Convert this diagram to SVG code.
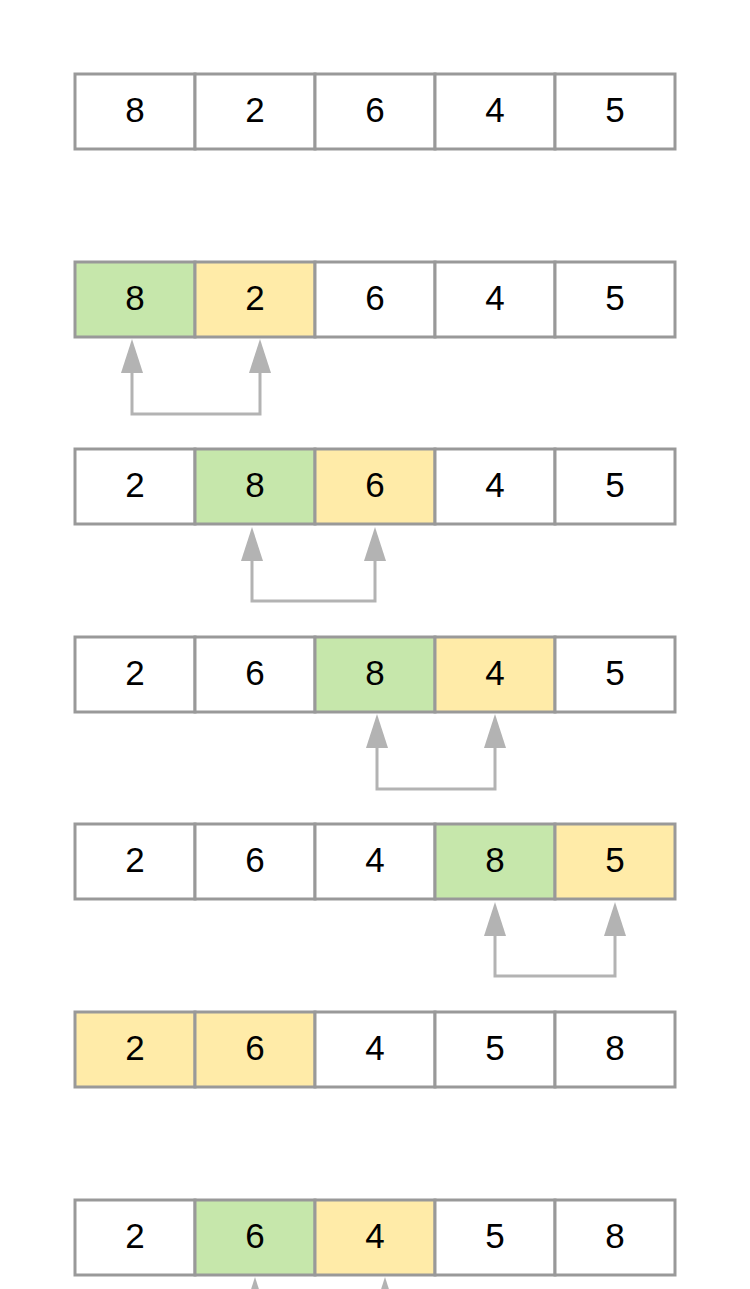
<svg xmlns="http://www.w3.org/2000/svg" width="750" height="1289" viewBox="0 0 750 1289">
<style>
.c{stroke:#999999;stroke-width:3;fill:#ffffff}
.g{fill:#c6e7ab}
.y{fill:#ffeba8}
.t{font-family:"Liberation Sans",Arial,sans-serif;font-size:35px;fill:#000000;text-anchor:middle}
.a{fill:none;stroke:#b3b3b3;stroke-width:3;marker-start:url(#h);marker-end:url(#h)}
</style>
<defs>
<marker id="h" viewBox="0 0 34 22" refX="0" refY="11" markerWidth="34" markerHeight="22" markerUnits="userSpaceOnUse" orient="auto-start-reverse">
<path d="M0,0 L34,11 L0,22 z" fill="#b3b3b3"/>
</marker>
</defs>
<g id="row1">
<rect class="c" x="75" y="74" width="120" height="75"/><rect class="c" x="195" y="74" width="120" height="75"/><rect class="c" x="315" y="74" width="120" height="75"/><rect class="c" x="435" y="74" width="120" height="75"/><rect class="c" x="555" y="74" width="120" height="75"/>
<text class="t" x="135" y="122">8</text><text class="t" x="255" y="122">2</text><text class="t" x="375" y="122">6</text><text class="t" x="495" y="122">4</text><text class="t" x="615" y="122">5</text>
</g>
<g id="row2">
<rect class="c g" x="75" y="262" width="120" height="75"/><rect class="c y" x="195" y="262" width="120" height="75"/><rect class="c" x="315" y="262" width="120" height="75"/><rect class="c" x="435" y="262" width="120" height="75"/><rect class="c" x="555" y="262" width="120" height="75"/>
<text class="t" x="135" y="310">8</text><text class="t" x="255" y="310">2</text><text class="t" x="375" y="310">6</text><text class="t" x="495" y="310">4</text><text class="t" x="615" y="310">5</text>
</g>
<g id="row3">
<rect class="c" x="75" y="449" width="120" height="75"/><rect class="c g" x="195" y="449" width="120" height="75"/><rect class="c y" x="315" y="449" width="120" height="75"/><rect class="c" x="435" y="449" width="120" height="75"/><rect class="c" x="555" y="449" width="120" height="75"/>
<text class="t" x="135" y="497">2</text><text class="t" x="255" y="497">8</text><text class="t" x="375" y="497">6</text><text class="t" x="495" y="497">4</text><text class="t" x="615" y="497">5</text>
</g>
<g id="row4">
<rect class="c" x="75" y="637" width="120" height="75"/><rect class="c" x="195" y="637" width="120" height="75"/><rect class="c g" x="315" y="637" width="120" height="75"/><rect class="c y" x="435" y="637" width="120" height="75"/><rect class="c" x="555" y="637" width="120" height="75"/>
<text class="t" x="135" y="685">2</text><text class="t" x="255" y="685">6</text><text class="t" x="375" y="685">8</text><text class="t" x="495" y="685">4</text><text class="t" x="615" y="685">5</text>
</g>
<g id="row5">
<rect class="c" x="75" y="824" width="120" height="75"/><rect class="c" x="195" y="824" width="120" height="75"/><rect class="c" x="315" y="824" width="120" height="75"/><rect class="c g" x="435" y="824" width="120" height="75"/><rect class="c y" x="555" y="824" width="120" height="75"/>
<text class="t" x="135" y="872">2</text><text class="t" x="255" y="872">6</text><text class="t" x="375" y="872">4</text><text class="t" x="495" y="872">8</text><text class="t" x="615" y="872">5</text>
</g>
<g id="row6">
<rect class="c y" x="75" y="1012" width="120" height="75"/><rect class="c y" x="195" y="1012" width="120" height="75"/><rect class="c" x="315" y="1012" width="120" height="75"/><rect class="c" x="435" y="1012" width="120" height="75"/><rect class="c" x="555" y="1012" width="120" height="75"/>
<text class="t" x="135" y="1060">2</text><text class="t" x="255" y="1060">6</text><text class="t" x="375" y="1060">4</text><text class="t" x="495" y="1060">5</text><text class="t" x="615" y="1060">8</text>
</g>
<g id="row7">
<rect class="c" x="75" y="1200" width="120" height="75"/><rect class="c g" x="195" y="1200" width="120" height="75"/><rect class="c y" x="315" y="1200" width="120" height="75"/><rect class="c" x="435" y="1200" width="120" height="75"/><rect class="c" x="555" y="1200" width="120" height="75"/>
<text class="t" x="135" y="1248">2</text><text class="t" x="255" y="1248">6</text><text class="t" x="375" y="1248">4</text><text class="t" x="495" y="1248">5</text><text class="t" x="615" y="1248">8</text>
</g>
<g id="connectors">
<path class="a" d="M132,373 V414 H260 V373"/>
<path class="a" d="M252,561 V601 H375 V561"/>
<path class="a" d="M377,748 V789 H495 V748"/>
<path class="a" d="M495,936 V976 H615 V936"/>
<path class="a" d="M255,1311 V1352 H385 V1311"/>
</g>
</svg>
